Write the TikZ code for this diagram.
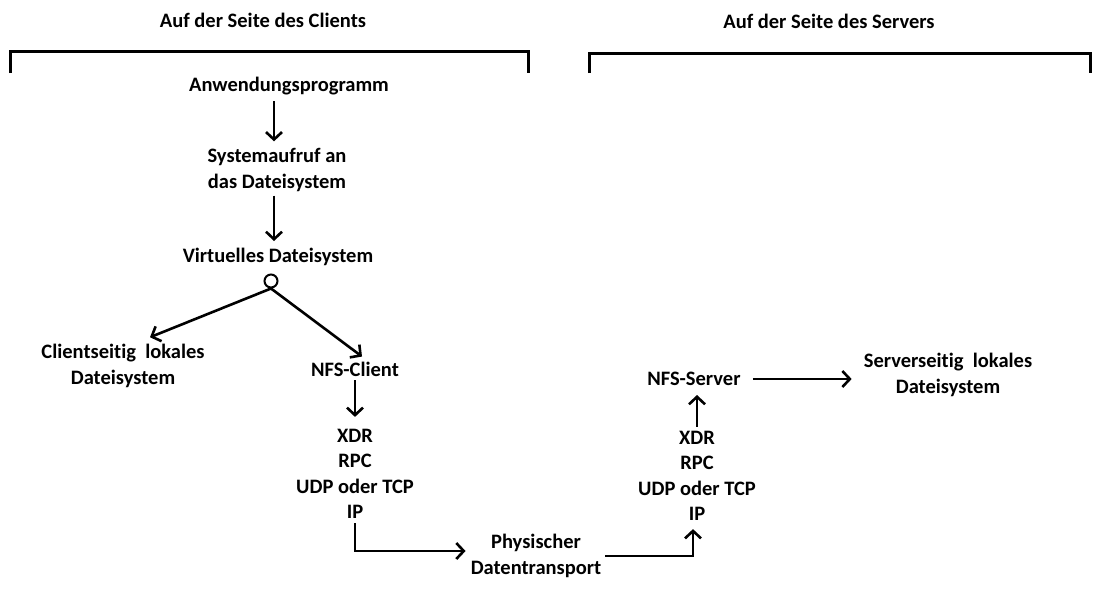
\documentclass[tikz,border=0pt]{standalone}
\usepackage{fontspec}
\setmainfont{Carlito}[Ligatures=NoCommon]
\usetikzlibrary{arrows.meta}

\tikzset{
  lbl/.style={font=\bfseries\fontsize{20.5}{25.5}\selectfont, align=center, inner sep=4pt},
  arr/.style={line width=2.6pt, -{Straight Barb[length=7.5pt,width=16pt]}},
  brace/.style={line width=3pt}
}

\begin{document}
\begin{tikzpicture}[x=1pt,y=-1pt]
    \useasboundingbox (0,0) rectangle (1097,590);
    % Draw the two sides
    \node[lbl] (cside) at (263,20) {Auf der Seite des Clients};
    \node[lbl] (sside) at (829,21) {Auf der Seite des Servers};
    \draw[brace] (10,73) |- (528,51) -- (528,73);
    \draw[brace] (589,73) |- (1090,53) -- (1090,73);
    % Client stack
    \node[lbl] (app) at (289,86) {Anwendungsprogramm};
    \node[lbl] (sys) at (277,170) {Systemaufruf an\\das Dateisystem};
    \node[lbl] (vfs) at (278,257) {Virtuelles Dateisystem};
    \node[circle, draw, line width=2pt, minimum size=13pt, inner sep=0pt] (vfsc) at (271,281) {};
    \node[lbl] (clocal) at (123,366) {Clientseitig\ \ lokales\\Dateisystem};
    \node[lbl] (ncl) at (355,369) {NFS-Client};
    \node[lbl] (cstack) at (355,474) {XDR\\RPC\\UDP oder TCP\\IP};
    \draw[arr] ([xshift=-15pt,yshift=-2pt]app.south) -- ([xshift=-3pt,yshift=3pt]sys.north);
    \draw[arr] ([xshift=-3pt]sys.south) -- ([xshift=-4pt,yshift=3pt]vfs.north);
    \draw[arr] (vfsc.south) -- ([xshift=27pt,yshift=3pt]clocal.north);
    \draw[arr] (vfsc.south) -- ([xshift=7pt,yshift=1pt]ncl.north);
    \draw[arr] (ncl.south) -- ([yshift=8pt]cstack.north);
    % Server stack
    \node[lbl] (sstack) at (697,476) {XDR\\RPC\\UDP oder TCP\\IP};
    \node[lbl] (nsv) at (694,379) {NFS-Server};
    \node[lbl] (slocal) at (948,375) {Serverseitig\ \ lokales\\Dateisystem};
    \draw[arr] (sstack.north) -- ([yshift=-5pt]sstack.north |- nsv.south);
    \draw[arr] ([xshift=8pt]nsv.east) -- ([xshift=-8pt]nsv.east -| slocal.west);
    % Transport
    \node[lbl] (phys) at (536,556) {Physischer\\Datentransport};
    \draw[arr] (cstack.south) |- ([xshift=-1pt,yshift=5pt]phys.west);
    \draw[arr] (phys.east) -| ([xshift=-4pt,yshift=-4pt]sstack.south);
\end{tikzpicture}
\end{document}
